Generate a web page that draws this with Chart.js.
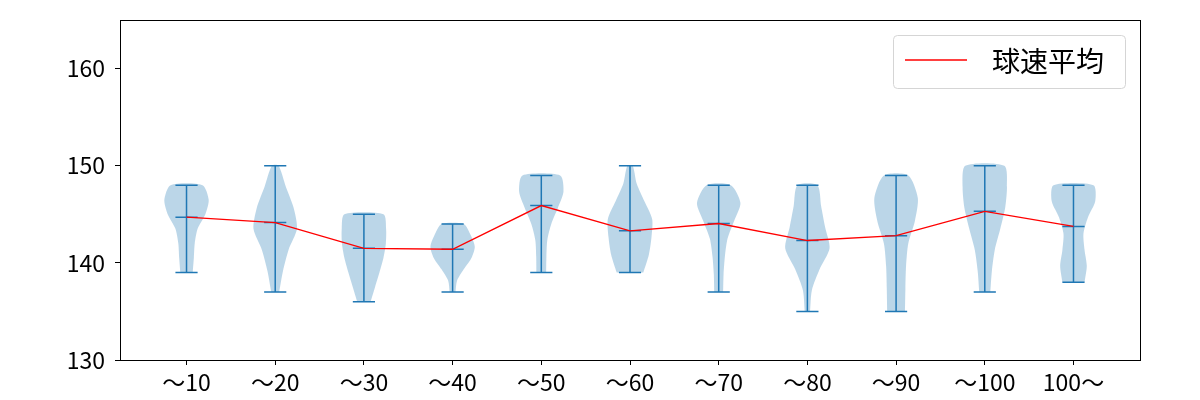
<!DOCTYPE html>
<html>
<head>
<meta charset="utf-8">
<script src="https://cdn.jsdelivr.net/npm/chart.js@4.4.1/dist/chart.umd.min.js"></script>
<style>
  html, body { margin: 0; background: #fff; }
  #wrap { width: 1200px; height: 400px; }
</style>
</head>
<body>
<div id="wrap"><canvas id="speedChart"></canvas></div>
<script>
const categories = ['～10', '～20', '～30', '～40', '～50', '～60', '～70', '～80', '～90', '～100', '100～'];
const speedMin = [139, 137, 136, 137, 139, 139, 137, 135, 135, 137, 138];
const speedMax = [148, 150, 145, 144, 149, 150, 148, 148, 149, 150, 148];
const speedMean = [144.7, 144.15, 141.5, 141.4, 145.9, 143.3, 144.05, 142.3, 142.8, 145.3, 143.75];
// relative violin width at 7 evenly spaced levels, from min (first) to max (last)
const violinWidths = [
    [0.28, 0.33, 0.37, 0.50, 0.85, 1.00, 0.72],
    [0.18, 0.35, 0.60, 0.98, 0.83, 0.48, 0.15],
    [0.30, 0.50, 0.70, 0.88, 0.99, 1.00, 0.88],
    [0.13, 0.20, 0.50, 0.85, 1.00, 0.82, 0.50],
    [0.22, 0.23, 0.27, 0.45, 0.75, 1.00, 0.85],
    [0.60, 0.85, 0.97, 1.00, 0.65, 0.30, 0.12],
    [0.20, 0.22, 0.28, 0.40, 0.70, 0.98, 0.55],
    [0.12, 0.20, 0.55, 1.00, 0.80, 0.62, 0.45],
    [0.40, 0.42, 0.45, 0.55, 0.85, 0.98, 0.55],
    [0.25, 0.32, 0.45, 0.70, 0.92, 1.00, 0.88],
    [0.50, 0.60, 0.50, 0.45, 0.65, 0.98, 0.90],
];
const yTicks = [130, 140, 150, 160];
const meanLabel = '球速平均';

const FONT = '"Noto Sans CJK JP", "Noto Sans", sans-serif';
const BLUE = '#1f77b4';
const HALF = 0.25;   // half of the violin width (widths = 0.5)
const CAP = 0.125;   // half of the cap line length

function violinOutline(i) {
    const w = violinWidths[i];
    const pos = i + 1;
    const lo = speedMin[i], hi = speedMax[i];
    const ys = w.map((_, k) => lo + (hi - lo) * k / (w.length - 1));
    const right = w.map((d, k) => ({ x: pos + HALF * d, y: ys[k] }));
    const left = w.map((d, k) => ({ x: pos - HALF * d, y: ys[k] })).reverse();
    return right.concat(left);
}

function violinLines(i) {
    const p = i + 1;
    return [
        { x: p - CAP, y: speedMin[i] }, { x: p + CAP, y: speedMin[i] }, { x: p, y: null },
        { x: p, y: speedMin[i] }, { x: p, y: speedMax[i] }, { x: p, y: null },
        { x: p - CAP, y: speedMax[i] }, { x: p + CAP, y: speedMax[i] }, { x: p, y: null },
        { x: p - CAP, y: speedMean[i] }, { x: p + CAP, y: speedMean[i] },
    ];
}

const datasets = [
    {
        label: meanLabel,
        data: speedMean.map((v, i) => ({ x: i + 1, y: v })),
        showLine: true,
        borderColor: '#ff0000',
        borderWidth: 1.3,
        pointRadius: 0,
        order: 0,
    },
];
categories.forEach((_, i) => {
    datasets.push({
        label: 'lines' + i,
        data: violinLines(i),
        showLine: true,
        spanGaps: false,
        borderColor: BLUE,
        borderWidth: 1.5,
        pointRadius: 0,
        order: 1,
    });
});
categories.forEach((_, i) => {
    datasets.push({
        label: 'violin' + i,
        data: violinOutline(i),
        showLine: true,
        fill: 'shape',
        tension: 0.25,
        borderWidth: 0,
        borderColor: 'rgba(0,0,0,0)',
        backgroundColor: 'rgba(31,119,180,0.3)',
        pointRadius: 0,
        order: 2,
    });
});

const frame = {
    id: 'frame',
    afterDraw(chart) {
        const { ctx, chartArea: a } = chart;
        ctx.save();
        ctx.strokeStyle = '#000';
        ctx.lineWidth = 1;
        ctx.strokeRect(Math.round(a.left) + 0.5, Math.round(a.top) + 0.5,
            Math.round(a.right - a.left), Math.round(a.bottom - a.top));
        ctx.restore();
    },
};

const legendBox = {
    id: 'legendBox',
    afterDraw(chart) {
        const { ctx, chartArea: a } = chart;
        const ds = chart.data.datasets[0];
        const w = 232, h = 53;
        const x = Math.round(a.right) - 15 - w, y = Math.round(a.top) + 15;
        ctx.save();
        ctx.beginPath();
        ctx.roundRect(x + 0.5, y + 0.5, w, h, 4);
        ctx.fillStyle = 'rgba(255,255,255,0.8)';
        ctx.fill();
        ctx.strokeStyle = '#d5d5d5';
        ctx.lineWidth = 1;
        ctx.stroke();
        ctx.strokeStyle = ds.borderColor;
        ctx.lineWidth = ds.borderWidth;
        ctx.beginPath();
        ctx.moveTo(x + 12, y + 25);
        ctx.lineTo(x + 74, y + 25);
        ctx.stroke();
        ctx.fillStyle = '#000';
        ctx.font = '28px ' + FONT;
        ctx.textBaseline = 'middle';
        ctx.fillText(ds.label, x + 99, y + 26);
        ctx.restore();
    },
};

new Chart(document.getElementById('speedChart').getContext('2d'), {
    type: 'scatter',
    data: { datasets },
    options: {
        responsive: true,
        maintainAspectRatio: false,
        animation: false,
        layout: { padding: { left: 0, right: 60, top: 20, bottom: 0 } },
        plugins: {
            legend: { display: false },
            tooltip: { enabled: false },
        },
        scales: {
            x: {
                type: 'linear',
                min: 0.25,
                max: 11.75,
                afterBuildTicks: (scale) => {
                    scale.ticks = categories.map((_, i) => ({ value: i + 1 }));
                },
                afterFit: (scale) => {
                    scale.height = 40;
                    scale.paddingLeft = 0;
                    scale.paddingRight = 0;
                },
                border: { display: false },
                grid: {
                    drawOnChartArea: false,
                    drawTicks: true,
                    tickLength: 5,
                    tickColor: '#000',
                },
                ticks: {
                    color: '#000',
                    font: { family: FONT, size: 23 },
                    padding: 3,
                    maxRotation: 0,
                    autoSkip: false,
                    callback: (v) => categories[v - 1] ?? '',
                },
            },
            y: {
                min: 130,
                max: 165,
                afterBuildTicks: (scale) => {
                    scale.ticks = yTicks.map((v) => ({ value: v }));
                },
                afterFit: (scale) => {
                    scale.width = 120;
                    scale.paddingTop = 0;
                    scale.paddingBottom = 0;
                },
                border: { display: false },
                grid: {
                    drawOnChartArea: false,
                    drawTicks: true,
                    tickLength: 5,
                    tickColor: '#000',
                },
                ticks: {
                    color: '#000',
                    font: { family: FONT, size: 23 },
                    padding: 10,
                },
            },
        },
    },
    plugins: [frame, legendBox],
});
</script>
</body>
</html>
